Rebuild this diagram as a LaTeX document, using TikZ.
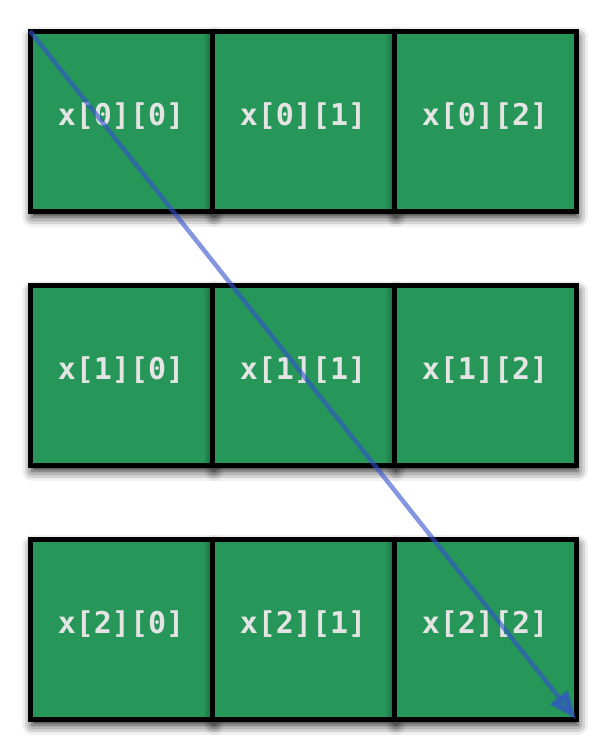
\documentclass[tikz,border=0pt]{standalone}
\usepackage{fontspec}
\setmonofont{DejaVu Sans Mono}
\usepackage{tikz}
\usetikzlibrary{positioning,shadows.blur,arrows.meta}
\definecolor{cellgreen}{RGB}{38,151,88}
\definecolor{celltext}{RGB}{228,228,228}
\definecolor{arrowblue}{RGB}{50,80,205}

\begin{document}
\begin{tikzpicture}[x=1pt,y=1pt,
	cell/.style={rectangle,draw=black,line width=5pt,fill=cellgreen,inner sep=0pt,outer sep=0pt,
		minimum width=182pt,minimum height=180pt,text=celltext,text depth=14pt,
		font=\fontsize{30}{30}\selectfont\ttfamily\bfseries,
		blur shadow={shadow xshift=2pt,shadow yshift=-6pt,shadow blur radius=10pt,shadow opacity=90}},
	diag/.style={draw=arrowblue,line width=4.5pt,opacity=0.6,-{Triangle[length=28pt,width=22pt]}}]
\useasboundingbox (0,0) rectangle (603,-750);
\node [cell] (c00) at (121,-121) {x[0][0]};
\node [cell,right=0pt of c00] (c01) {x[0][1]};
\node [cell,right=0pt of c01] (c02) {x[0][2]};
\node [cell,below=74pt of c00] (c10) {x[1][0]};
\node [cell,right=0pt of c10] (c11) {x[1][1]};
\node [cell,right=0pt of c11] (c12) {x[1][2]};
\node [cell,below=74pt of c10] (c20) {x[2][0]};
\node [cell,right=0pt of c20] (c21) {x[2][1]};
\node [cell,right=0pt of c21] (c22) {x[2][2]};
\draw [diag] (c00.north west) -- (c22.south east);
\end{tikzpicture}
\end{document}
